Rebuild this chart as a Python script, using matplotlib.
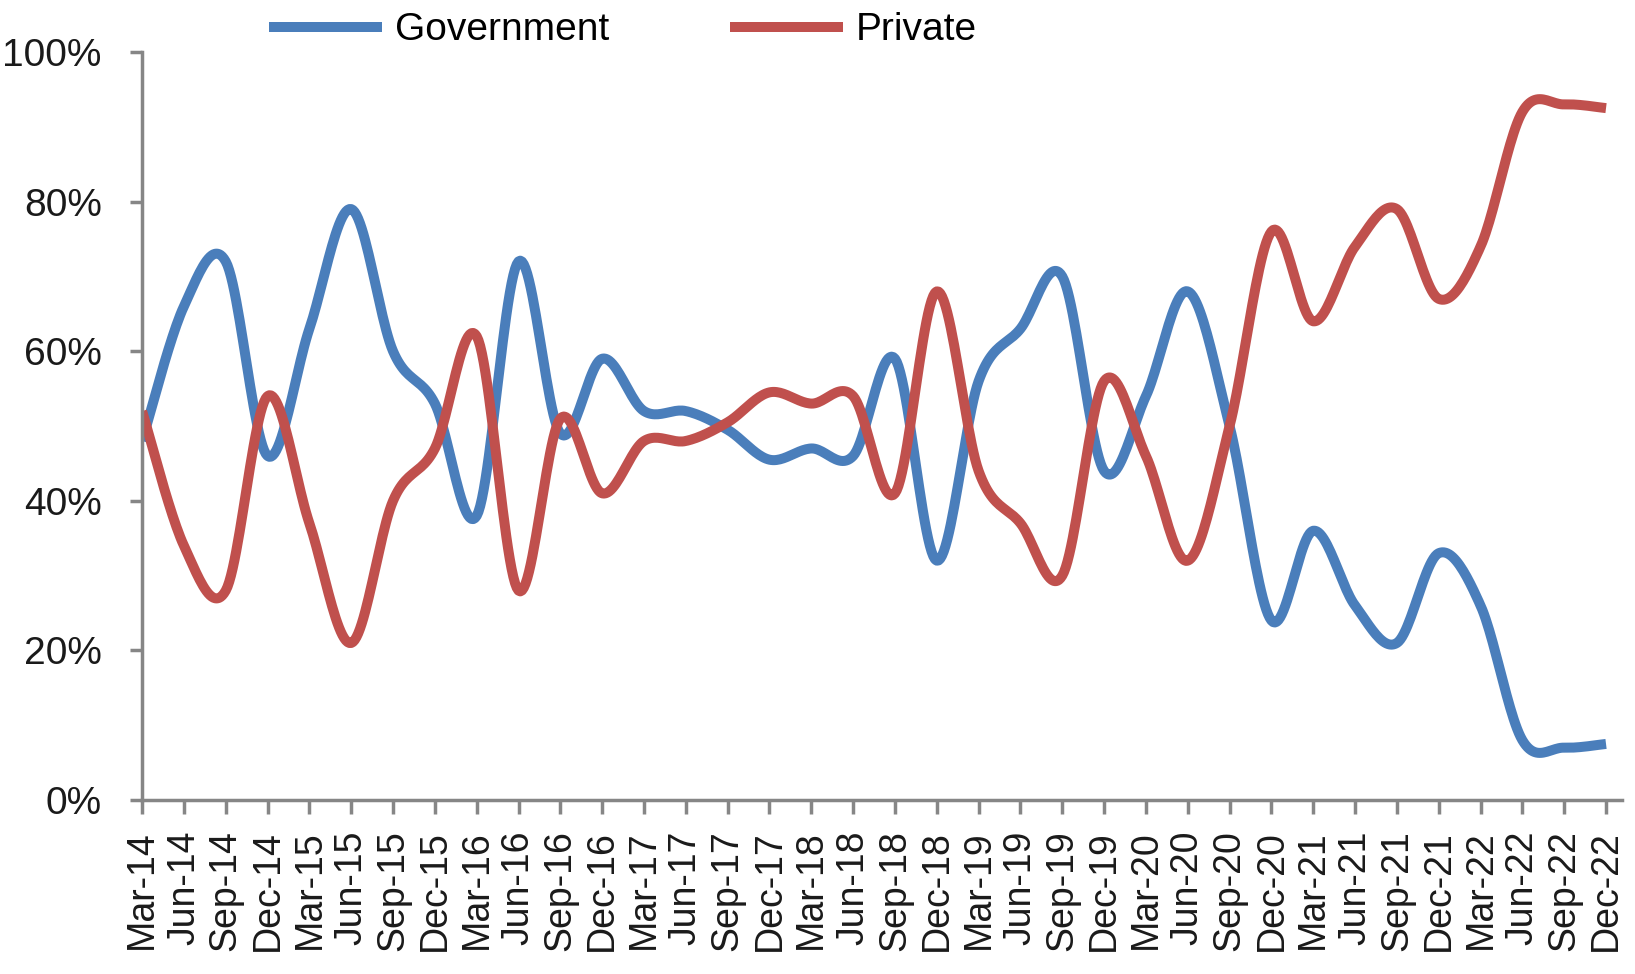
import numpy as np
import matplotlib
matplotlib.use('Agg')
import matplotlib.pyplot as plt
from matplotlib.ticker import PercentFormatter

# quarterly share of ownership, %
quarters = ['Mar-14', 'Jun-14', 'Sep-14', 'Dec-14', 'Mar-15', 'Jun-15', 'Sep-15', 'Dec-15',
            'Mar-16', 'Jun-16', 'Sep-16', 'Dec-16', 'Mar-17', 'Jun-17', 'Sep-17', 'Dec-17',
            'Mar-18', 'Jun-18', 'Sep-18', 'Dec-18', 'Mar-19', 'Jun-19', 'Sep-19', 'Dec-19',
            'Mar-20', 'Jun-20', 'Sep-20', 'Dec-20', 'Mar-21', 'Jun-21', 'Sep-21', 'Dec-21',
            'Mar-22', 'Jun-22', 'Sep-22', 'Dec-22']
government = [48, 66, 72, 46, 63, 79, 60, 53, 38, 72, 49, 59, 52, 52, 49.5, 45.5, 47, 46,
              59, 32, 56, 63, 70, 44, 54, 68, 50, 24, 36, 26, 21, 33, 26, 8, 7, 7.5]
private = [52, 34, 28, 54, 37, 21, 40, 47, 62, 28, 51, 41, 48, 48, 50.5, 54.5, 53, 54,
           41, 68, 44, 37, 30, 56, 46, 32, 50, 76, 64, 74, 79, 67, 74, 92, 93, 92.5]


def smooth(y, n=24):
    # Excel style smoothed line: cubic bezier between points, catmull-rom tangents
    y = np.asarray(y, dtype=float)
    x = np.arange(len(y), dtype=float)
    px, py = [], []
    for i in range(len(y) - 1):
        x0, y0 = x[max(i - 1, 0)], y[max(i - 1, 0)]
        x1, y1 = x[i], y[i]
        x2, y2 = x[i + 1], y[i + 1]
        x3, y3 = x[min(i + 2, len(y) - 1)], y[min(i + 2, len(y) - 1)]
        c1x, c1y = x1 + (x2 - x0) / 6, y1 + (y2 - y0) / 6
        c2x, c2y = x2 - (x3 - x1) / 6, y2 - (y3 - y1) / 6
        t = np.linspace(0, 1, n, endpoint=False)
        a, b, c, d = (1 - t) ** 3, 3 * t * (1 - t) ** 2, 3 * t ** 2 * (1 - t), t ** 3
        px.extend(a * x1 + b * c1x + c * c2x + d * x2)
        py.extend(a * y1 + b * c1y + c * c2y + d * y2)
    px.append(x[-1])
    py.append(y[-1])
    return np.array(px), np.array(py)


plt.rcParams['font.family'] = ['Liberation Sans', 'DejaVu Sans']

fig = plt.figure(figsize=(16.35, 9.74), dpi=100)
ax = fig.add_axes([0.0869, 0.1786, 0.9051, 0.768])

gx, gy = smooth(government)
rx, ry = smooth(private)
ax.plot(gx, gy, color='#4A7EBB', lw=7.2, label='Government', solid_capstyle='butt')
ax.plot(rx, ry, color='#C0504D', lw=7.2, label='Private', solid_capstyle='butt')

ax.set_xlim(0, 35.38)
ax.set_ylim(0, 100)
ax.set_yticks(np.arange(0, 101, 20))
ax.yaxis.set_major_formatter(PercentFormatter(decimals=0))
ax.set_xticks(np.arange(len(quarters)))
ax.set_xticklabels(quarters, rotation=90, fontsize=27)

for side in ['top', 'right']:
    ax.spines[side].set_visible(False)
for side in ['left', 'bottom']:
    ax.spines[side].set_color('#868686')
    ax.spines[side].set_linewidth(2.5)
ax.tick_params(axis='y', length=9, width=2.5, color='#868686', pad=20, labelsize=28,
               labelcolor='#1a1a1a')
ax.tick_params(axis='x', length=10, width=2.5, color='#868686', pad=12, labelcolor='#1a1a1a')

fig.legend(loc='center', bbox_to_anchor=(0.381, 0.969), ncol=2, frameon=False, fontsize=28,
           handlelength=2.9, handletextpad=0.33, columnspacing=3.1, borderaxespad=0)

fig.savefig('out.png', dpi=100)
